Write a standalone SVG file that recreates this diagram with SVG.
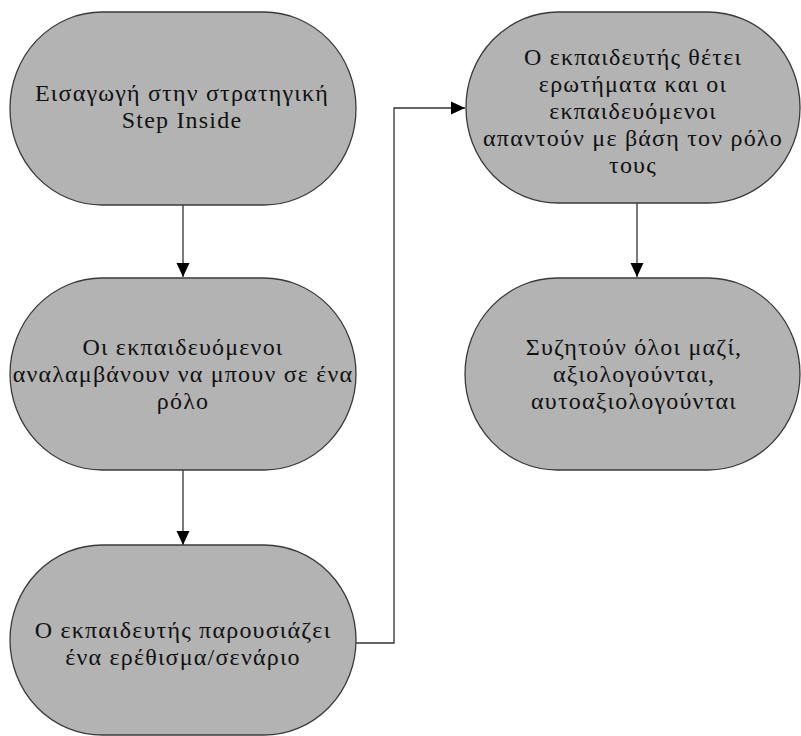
<svg xmlns="http://www.w3.org/2000/svg" width="801" height="736" viewBox="0 0 801 736">
<defs>
<style>
.node rect{fill:#b3b3b3;stroke:#3a3a3a;stroke-width:1.3}
.node text{font-family:"Liberation Serif","Times New Roman",serif;font-size:24px;letter-spacing:1.2px;fill:#111;text-anchor:middle}
.conn path{fill:none;stroke:#333;stroke-width:1.3}
</style>
<marker id="arr" markerUnits="userSpaceOnUse" markerWidth="14" markerHeight="14" viewBox="0 0 14 14" refX="14" refY="7" orient="auto">
<path d="M0,0.5 L14,7 L0,13.5 Z" fill="#000"/>
</marker>
</defs>
<rect width="801" height="736" fill="#fff"/>
<g class="conn" id="connectors">
<path d="M183,205 V277" marker-end="url(#arr)"/>
<path d="M183,470 V545" marker-end="url(#arr)"/>
<path d="M356,643 H394 V108 H465" marker-end="url(#arr)"/>
<path d="M637,203 V277" marker-end="url(#arr)"/>
</g>
<g class="node" id="n1">
<rect x="10" y="12" width="346" height="193" rx="92" ry="96"/>
<text x="182" y="101">Εισαγωγή στην στρατηγική</text>
<text x="182" y="128">Step Inside</text>
</g>
<g class="node" id="n2">
<rect x="10" y="278" width="346" height="192" rx="92" ry="96"/>
<text x="183" y="355">Οι εκπαιδευόμενοι</text>
<text x="183" y="382">αναλαμβάνουν να μπουν σε ένα</text>
<text x="183" y="409">ρόλο</text>
</g>
<g class="node" id="n3">
<rect x="10" y="545" width="346" height="190" rx="92" ry="95"/>
<text x="183" y="638">Ο εκπαιδευτής παρουσιάζει</text>
<text x="183" y="665">ένα ερέθισμα/σενάριο</text>
</g>
<g class="node" id="n4">
<rect x="466" y="12" width="334" height="191" rx="92" ry="95"/>
<text x="633" y="65">Ο εκπαιδευτής θέτει</text>
<text x="633" y="92">ερωτήματα και οι</text>
<text x="633" y="119">εκπαιδευόμενοι</text>
<text x="633" y="146">απαντούν με βάση τον ρόλο</text>
<text x="633" y="173">τους</text>
</g>
<g class="node" id="n5">
<rect x="465" y="278" width="335" height="192" rx="92" ry="96"/>
<text x="634" y="355">Συζητούν όλοι μαζί,</text>
<text x="634" y="382">αξιολογούνται,</text>
<text x="634" y="409">αυτοαξιολογούνται</text>
</g>
</svg>
